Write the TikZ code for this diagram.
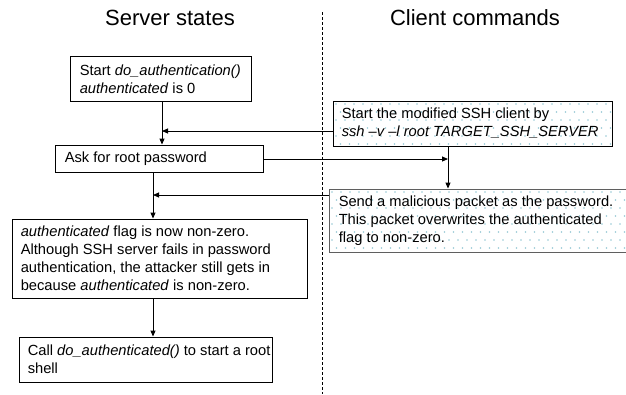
\documentclass[tikz,border=0pt]{standalone}
\usepackage{fontspec}
\setmainfont{Liberation Sans}
\usetikzlibrary{arrows.meta}
\definecolor{dotblue}{RGB}{150,200,212}
\definecolor{framegray}{RGB}{95,95,95}
\begin{document}
\begin{tikzpicture}[x=1pt,y=-1pt,
  box/.style={draw=black, line width=0.9pt, inner sep=0pt},
  txt/.style={font=\fontsize{14.7}{18}\selectfont, align=left, inner sep=0pt, anchor=west},
  title/.style={font=\fontsize{22}{26}\selectfont, inner sep=0pt},
  arr/.style={line width=0.9pt, -{Triangle[length=6pt,width=5pt]}},
  lane/.style={line width=0.8pt, dash pattern=on 3pt off 2pt}
]
\useasboundingbox (0,0) rectangle (626,394);

% column titles and the lane divider
\node[title] (ts) at (170,18) {Server states};
\node[title] (tc) at (475,18) {Client commands};
\coordinate (dtop) at (322,12);
\coordinate (dbot) at (322,394);
\draw[lane] (dtop) -- (dbot);

% dotted tint of the client boxes
\foreach \l/\t/\r/\b in {333/101/612/146, 329/189/640/252} {
  \begin{scope}
    \clip (\l,\t) rectangle (\r,\b);
    \foreach \i in {0,...,36}
      \foreach \j in {0,...,8}
        \fill[dotblue] ({\l+3+\i*9+mod(\j,2)*4.5},{\t+3+\j*8}) circle (0.85);
  \end{scope}
}

% server side
\node[box, minimum width=181pt, minimum height=45pt] (b1) at (160.5,78.5) {};
\node[txt] (t1) at ([xshift=10pt,yshift=-1pt]b1.west) {Start \textit{do\_authentication()}\\\textit{authenticated} is 0};

\node[box, minimum width=208pt, minimum height=27pt] (b2) at (159,158.5) {};
\node[txt] (t2) at ([xshift=10pt]b2.west) {Ask for root password};

\node[box, minimum width=295pt, minimum height=79pt] (b4) at (159.5,258.5) {};
\node[txt] (t4) at ([xshift=9pt]b4.west) {\textit{authenticated} flag is now non-zero.\\Although SSH server fails in password\\authentication, the attacker still gets in\\because \textit{authenticated} is non-zero.};

\node[box, minimum width=253pt, minimum height=45pt] (b5) at (145.5,359.5) {};
\node[txt] (t5) at ([xshift=9pt]b5.west) {Call \textit{do\_authenticated()} to start a root\\shell};

% client side
\node[box, minimum width=279pt, minimum height=45pt] (c1) at (472.5,123.5) {};
\node[txt] (u1) at ([xshift=9pt]c1.west) {Start the modified SSH client by\\\textit{ssh --v --l root TARGET\_SSH\_SERVER}};

\node[box, draw=framegray, minimum width=331pt, minimum height=63pt] (c2) at (494.5,220.5) {};
\node[txt] (u2) at ([xshift=10pt]c2.west) {Send a malicious packet as the password.\\This packet overwrites the authenticated\\flag to non-zero.};

% junction points of the message arrows
\coordinate (j1) at (162,131);
\coordinate (j2) at (448,159);
\coordinate (j3) at (153,195);

\draw[arr] (b1.south -| j1) -- (b2.north -| j1);
\draw[arr] (c1.west |- j1) -- (j1);
\draw[arr] (b2.east |- j2) -- (j2);
\draw[arr] (c1.south -| j2) -- (c2.north -| j2);
\draw[arr] (c2.west |- j3) -- (j3);
\draw[arr] (b2.south -| j3) -- (b4.north -| j3);
\draw[arr] (b4.south -| j3) -- (b5.north -| j3);
\end{tikzpicture}
\end{document}
